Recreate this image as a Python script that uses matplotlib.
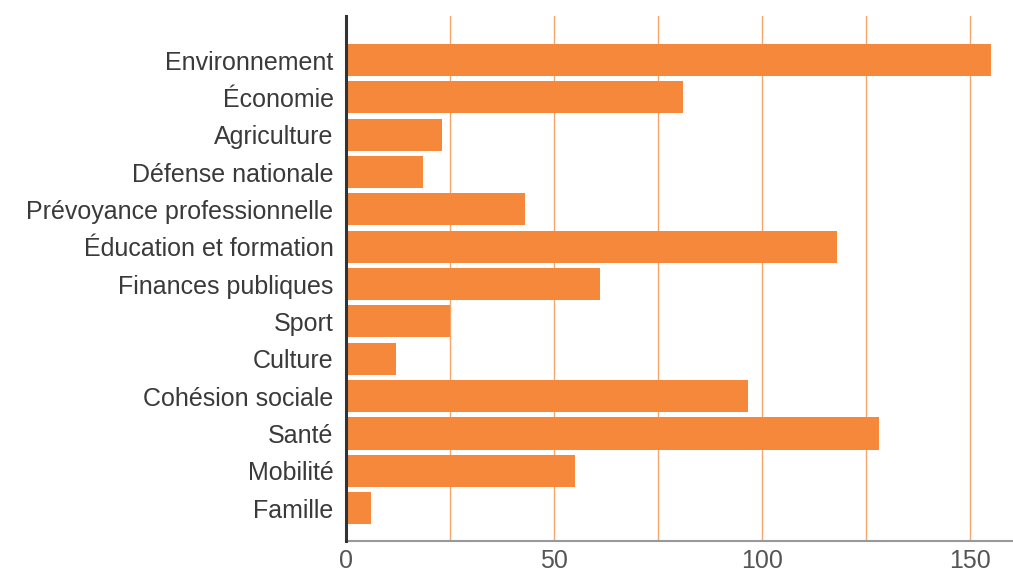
import matplotlib
matplotlib.use('Agg')
from matplotlib import pyplot as plt

categories = ['Environnement', 'Économie', 'Agriculture', 'Défense nationale',
              'Prévoyance professionnelle', 'Éducation et formation',
              'Finances publiques', 'Sport', 'Culture', 'Cohésion sociale',
              'Santé', 'Mobilité', 'Famille']
values = [155, 81, 23, 18.5, 43, 118, 61, 25, 12, 96.5, 128, 55, 6]
xticks = [0, 50, 100, 150]

orange = '#F5883A'
plt.rcParams['font.family'] = ['Liberation Sans', 'DejaVu Sans']

fig = plt.figure(figsize=(10.13, 5.69), dpi=100)
ax = fig.add_axes([0.3416, 0.0492, 0.999 - 0.3416, 0.9719 - 0.0492])

pos = list(range(len(categories)))
ax.barh(pos, values, height=0.86, color=orange, zorder=2)

for g in [25, 50, 75, 100, 125, 150]:
    ax.axvline(g, color=orange, lw=1, alpha=0.75, zorder=1)

ax.set_xlim(0, 160)
ax.set_ylim(12.88, -1.18)
ax.set_yticks(pos)
ax.set_yticklabels(categories, fontsize=18, color='#3a3a3a')
ax.set_xticks(xticks)
ax.set_xticklabels([str(t) for t in xticks], fontsize=18, color='#555555')
ax.tick_params(axis='y', length=0, pad=9)
ax.tick_params(axis='x', length=0, pad=6)

for s in ['top', 'right']:
    ax.spines[s].set_visible(False)
ax.spines['left'].set_color('#333333')
ax.spines['left'].set_linewidth(2.2)
ax.spines['left'].set_zorder(3)
ax.spines['bottom'].set_color('#999999')
ax.spines['bottom'].set_linewidth(1.5)

fig.savefig('out.png', dpi=100)
